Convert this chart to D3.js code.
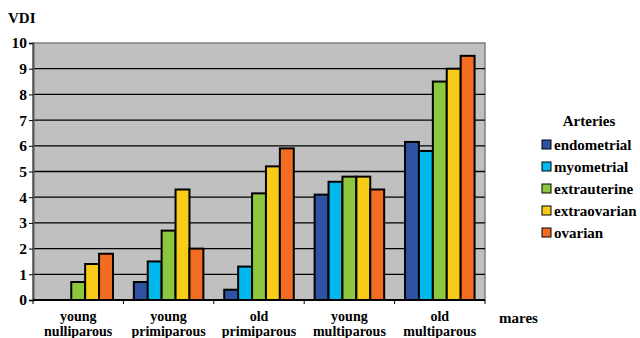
<!DOCTYPE html>
<html>
<head>
<meta charset="utf-8">
<script src="https://cdn.jsdelivr.net/npm/d3@7"></script>
<style>
  html, body { margin: 0; padding: 0; background: #fff; }
</style>
</head>
<body>
<svg id="chart" width="640" height="338"></svg>
<script>
// Mare groups along the x axis (two-line labels)
const groups = [
  ["young", "nulliparous"],
  ["young", "primiparous"],
  ["old", "primiparous"],
  ["young", "multiparous"],
  ["old", "multiparous"]
];
// Artery series
const arteries = ["endometrial", "myometrial", "extrauterine", "extraovarian", "ovarian"];
// VDI values per artery, one entry per mare group
const endometrial  = [0.0, 0.7, 0.4, 4.1, 6.15];
const myometrial   = [0.0, 1.5, 1.3, 4.6, 5.8];
const extrauterine = [0.7, 2.7, 4.15, 4.8, 8.5];
const extraovarian = [1.4, 4.3, 5.2, 4.8, 9.0];
const ovarian      = [1.8, 2.0, 5.9, 4.3, 9.5];
const yTicks = [0, 1, 2, 3, 4, 5, 6, 7, 8, 9, 10];
const colors = ["#2F52A3", "#00B9EC", "#8DC63F", "#F7CB17", "#F26C22"];

const seriesValues = [endometrial, myometrial, extrauterine, extraovarian, ovarian];
const FONT = "Liberation Serif";

const svg = d3.select("#chart");
const plot = { left: 33, right: 485, top: 43, bottom: 300 };

const x = d3.scaleBand()
  .domain(d3.range(groups.length))
  .range([plot.left, plot.right])
  .paddingInner(0).paddingOuter(0);

// 150% gap between groups, bars touching within a group
const barW = x.bandwidth() / 6.5;
const xInner = d3.scaleBand()
  .domain(arteries)
  .range([barW * 0.75, barW * 5.75]);

const y = d3.scaleLinear().domain([0, 10]).range([plot.bottom, plot.top]);

// plot background
svg.append("rect")
  .attr("x", plot.left).attr("y", plot.top)
  .attr("width", plot.right - plot.left).attr("height", plot.bottom - plot.top)
  .attr("fill", "#C0C0C0")
  .attr("stroke", "#808080").attr("stroke-width", 1.5);

// horizontal gridlines
svg.append("g").selectAll("line")
  .data(yTicks.filter(d => d > 0 && d < 10))
  .join("line")
  .attr("x1", plot.left).attr("x2", plot.right)
  .attr("y1", d => y(d)).attr("y2", d => y(d))
  .attr("stroke", "#000").attr("stroke-width", 1.3);

// bars
const gGroups = svg.append("g").selectAll("g")
  .data(groups)
  .join("g")
  .attr("transform", (d, i) => `translate(${x(i)},0)`);

gGroups.selectAll("rect")
  .data((d, i) => arteries.map((a, k) => ({ a, k, v: seriesValues[k][i] })))
  .join("rect")
  .attr("x", d => xInner(d.a))
  .attr("width", xInner.bandwidth())
  .attr("y", d => y(d.v))
  .attr("height", d => y(0) - y(d.v))
  .attr("fill", d => colors[d.k])
  .attr("stroke", "#000").attr("stroke-width", 2);

// y axis
const yAxis = d3.axisLeft(y).tickValues(yTicks).tickSize(4).tickPadding(2).tickFormat(d3.format("d"));
const gy = svg.append("g").attr("transform", `translate(${plot.left},0)`).call(yAxis);
gy.select(".domain").attr("stroke", "#555").attr("stroke-width", 2);
gy.selectAll(".tick line").attr("stroke", "#000");
gy.selectAll(".tick text")
  .attr("font-family", FONT).attr("font-size", 15.5).attr("font-weight", "bold").attr("fill", "#000");

// x axis
const gx = svg.append("g").attr("transform", `translate(0,${plot.bottom})`);
gx.append("line").attr("x1", plot.left).attr("x2", plot.right)
  .attr("y1", 0).attr("y2", 0).attr("stroke", "#000").attr("stroke-width", 2);
gx.selectAll("line.tk")
  .data(d3.range(groups.length + 1))
  .join("line").attr("class", "tk")
  .attr("x1", i => i < groups.length ? x(i) : plot.right)
  .attr("x2", i => i < groups.length ? x(i) : plot.right)
  .attr("y1", 0).attr("y2", 4)
  .attr("stroke", "#000");

const labels = gx.selectAll("text.cat")
  .data(groups)
  .join("text").attr("class", "cat")
  .attr("font-family", FONT).attr("font-weight", "bold")
  .attr("text-anchor", "middle")
  .attr("font-size", 14);
labels.append("tspan").attr("x", (d, i) => x(i) + x.bandwidth() / 2).attr("y", 20.5).text(d => d[0]);
labels.append("tspan").attr("x", (d, i) => x(i) + x.bandwidth() / 2).attr("y", 36).text(d => d[1]);

// axis titles
svg.append("text").attr("x", 8).attr("y", 23)
  .attr("font-family", FONT).attr("font-weight", "bold").attr("font-size", 15).text("VDI");
svg.append("text").attr("x", 499).attr("y", 323)
  .attr("font-family", FONT).attr("font-weight", "bold").attr("font-size", 15).text("mares");

// legend
const legend = svg.append("g");
legend.append("text").attr("x", 589).attr("y", 125.5)
  .attr("font-family", FONT).attr("font-weight", "bold")
  .attr("text-anchor", "middle").attr("font-size", 15).text("Arteries");
const items = legend.selectAll("g.item")
  .data(arteries)
  .join("g").attr("class", "item")
  .attr("transform", (d, i) => `translate(542,${140 + i * 22})`);
items.append("rect")
  .attr("x", 0).attr("y", 0).attr("width", 9).attr("height", 9)
  .attr("fill", (d, i) => colors[i]).attr("stroke", "#000").attr("stroke-width", 1);
items.append("text")
  .attr("font-family", FONT).attr("font-weight", "bold")
  .attr("x", 12).attr("y", 10).attr("font-size", 15).text(d => d);
</script>
</body>
</html>
